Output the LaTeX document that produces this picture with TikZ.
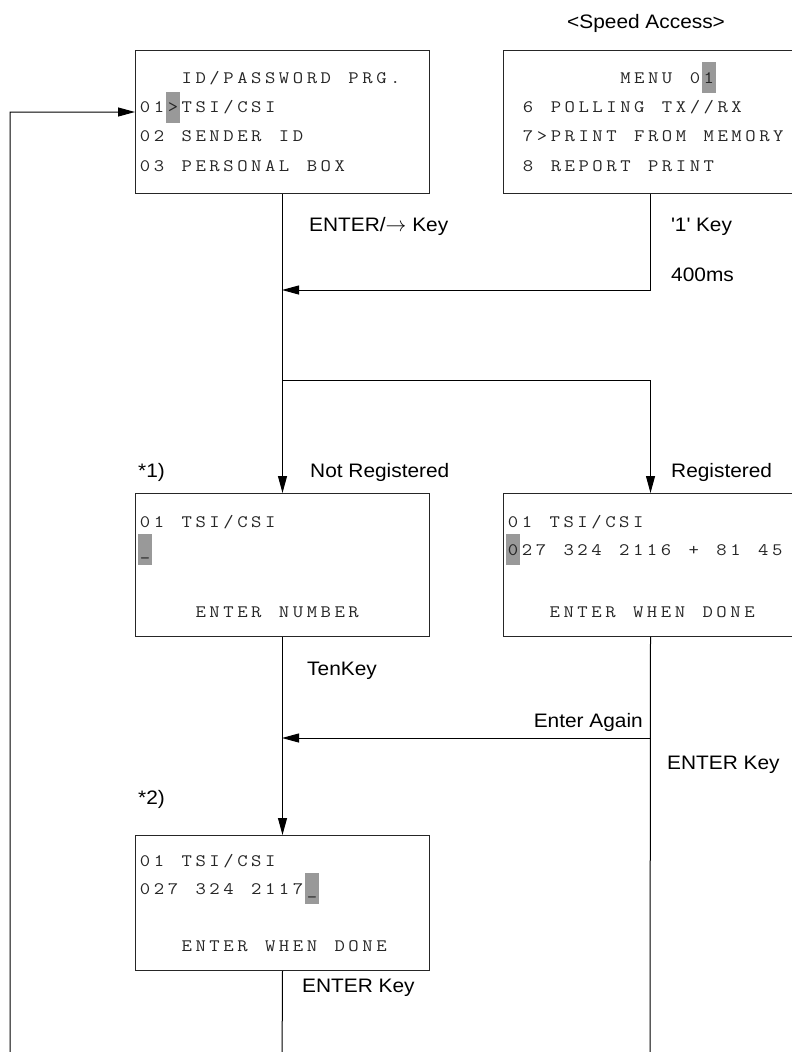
\documentclass[tikz,border=0pt]{standalone}
\usepackage{fontspec}
\usepackage{graphicx}
\setsansfont{Liberation Sans}[FakeStretch=1.07]
\usetikzlibrary{arrows.meta}
\newlength\lcdpitch
\setlength\lcdpitch{13.9pt}
\ExplSyntaxOn
\NewDocumentCommand\lcd{m}{\str_map_inline:nn{#1}{\makebox[\lcdpitch][c]{\scalebox{1.15}[1]{##1}}}}
\ExplSyntaxOff
\newcommand\lcdfont{\fontsize{17.5}{20}\selectfont\ttfamily}
\newcommand\lblfont{\sffamily\fontsize{19.5}{22}\selectfont}
\newcommand\hlcell[3]{\fill[hl] ({#1+#2*13.9},{#3-21}) rectangle ++(13.9,31);}
\begin{document}
\begin{tikzpicture}[x=1pt,y=-1pt,
  lcdbox/.style={draw=black!85, line width=1pt, anchor=north west, inner sep=0pt, minimum width=294pt, minimum height=143pt},
  lcdtxt/.style={anchor=base west, inner sep=0pt, font=\lcdfont, text=black!85},
  lbl/.style={anchor=base west, inner sep=0pt, font=\lblfont},
  hl/.style={fill=black!40, draw=none},
  conn/.style={line width=1pt, draw=black},
  arr/.style={conn, -{Triangle[length=17pt,width=9pt]}},
]
\useasboundingbox (0,0) rectangle (792,1052);

% boxes
\node[lcdbox] (b1) at (135,50) {};
\node[lcdbox] (b2) at (503,50) {};
\node[lcdbox] (b3) at (135,493) {};
\node[lcdbox] (b4) at (503,493) {};
\node[lcdbox, minimum height=135pt] (b5) at (135,835) {};

% highlights
\hlcell{138}{2}{112.5}
\hlcell{521}{13}{83}
\hlcell{138}{0}{555}
\hlcell{506}{0}{555}
\hlcell{138}{12}{894}

% box 1
\node[lcdtxt] (t11) at ({138+3*13.9},83) {\lcd{ID/PASSWORD PRG.}};
\node[lcdtxt] (t12) at (138,112.5) {\lcd{01>TSI/CSI}};
\node[lcdtxt] (t13) at (138,141.5) {\lcd{02 SENDER ID}};
\node[lcdtxt] (t14) at (138,171) {\lcd{03 PERSONAL BOX}};
% box 2
\node[lcdtxt] (t21) at ({521+7*13.9},83) {\lcd{MENU 01}};
\node[lcdtxt] (t22) at (521,112.5) {\lcd{6 POLLING TX//RX}};
\node[lcdtxt] (t23) at (521,141.5) {\lcd{7>PRINT FROM MEMORY}};
\node[lcdtxt] (t24) at (521,171) {\lcd{8 REPORT PRINT}};
% box 3
\node[lcdtxt] (t31) at (138,527) {\lcd{01 TSI/CSI}};
\node[lcdtxt] (t32) at (138,555) {\lcd{_}};
\node[lcdtxt] (t33) at ({138+4*13.9},617) {\lcd{ENTER NUMBER}};
% box 4
\node[lcdtxt] (t41) at (506,527) {\lcd{01 TSI/CSI}};
\node[lcdtxt] (t42) at (506,555) {\lcd{027 324 2116 + 81 45}};
\node[lcdtxt] (t43) at ({506+3*13.9},617) {\lcd{ENTER WHEN DONE}};
% box 5
\node[lcdtxt] (t51) at (138,866) {\lcd{01 TSI/CSI}};
\node[lcdtxt] (t52) at (138,894) {\lcd{027 324 2117_}};
\node[lcdtxt] (t53) at ({138+3*13.9},951) {\lcd{ENTER WHEN DONE}};

% connectors
\coordinate (br) at (282,380);
\coordinate (j1) at (282,290);
\coordinate (j2) at (282,738);
\coordinate (c4) at (650,738);
\coordinate (e4) at (650,1070);
\coordinate (lb1) at (282,1070);
\coordinate (lb2) at (10,112);
\draw[arr] (b1.south) -- (b3.north);
\draw[arr] (b2.south) |- (j1);
\draw[arr] (br) -| (b4.north);
\draw[arr] (b3.south) -- (b5.north);
\draw[conn] (b4.south) -- (e4);
\draw[arr] (c4) -- (j2);
\draw[arr] (b5.south) -- (lb1) -| (lb2) -- (b1.west |- lb2);

% labels
\node[lbl] (sa) at (567,28) {<Speed Access>};
\node[lbl] (l1) at (309,231) {ENTER/$\rightarrow$ Key};
\node[lbl] (l2) at (671,231) {\textquotesingle1\textquotesingle\ Key};
\node[lbl] (l3) at (671,281) {400ms};
\node[lbl] (s1) at (138,477) {*1)};
\node[lbl] (l4) at (310,477) {Not Registered};
\node[lbl] (l5) at (671,477) {Registered};
\node[lbl] (l6) at (307,675) {TenKey};
\node[lbl, anchor=base east] (l7) at (643,727) {Enter Again};
\node[lbl] (l8) at (667,769) {ENTER Key};
\node[lbl] (s2) at (138,804) {*2)};
\node[lbl] (l9) at (302,992) {ENTER Key};
\end{tikzpicture}
\end{document}
